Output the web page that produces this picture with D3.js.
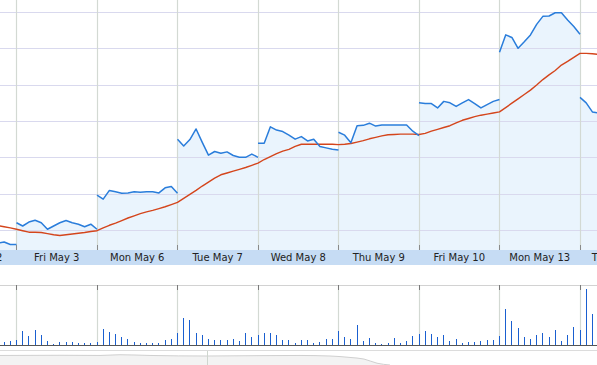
<!DOCTYPE html>
<html>
<head>
<meta charset="utf-8">
<script src="https://cdn.jsdelivr.net/npm/d3@7"></script>
<style>
html,body{margin:0;padding:0;background:#fff;}
svg{display:block;}
</style>
</head>
<body>
<svg id="chart" width="597" height="365"></svg>
<script>
// ---------- data ----------
const dayLabels = ["Thu May 2","Fri May 3","Mon May 6","Tue May 7","Wed May 8","Thu May 9","Fri May 10","Mon May 13","Tue May 14"];
const dayIndex  = [-1, 0, 1, 2, 3, 4, 5, 6, 7];
const firstPoint = [9, 0, 0, 0, 0, 0, 0, 0, 0];   // first half-hour point shown for each session

const pMay2  = [25.63, 25.64, 25.67, 25.60, 25.60];
const pMay3  = [26.20, 26.11, 26.22, 26.27, 26.20, 26.02, 26.11, 26.20, 26.26, 26.20, 26.16, 26.09, 26.16, 26.02];
const pMay6  = [26.96, 26.85, 27.09, 27.05, 27.01, 27.02, 27.05, 27.04, 27.05, 27.05, 27.02, 27.16, 27.20, 27.01];
const pMay7  = [28.50, 28.31, 28.49, 28.78, 28.41, 28.06, 28.16, 28.11, 28.15, 28.05, 28.00, 28.00, 28.09, 28.00];
const pMay8  = [28.39, 28.39, 28.84, 28.75, 28.71, 28.61, 28.50, 28.57, 28.45, 28.50, 28.30, 28.26, 28.22, 28.20];
const pMay9  = [28.69, 28.61, 28.40, 28.87, 28.88, 28.94, 28.86, 28.89, 28.89, 28.89, 28.89, 28.89, 28.72, 28.60];
const pMay10 = [29.50, 29.48, 29.48, 29.36, 29.54, 29.50, 29.40, 29.50, 29.59, 29.48, 29.36, 29.45, 29.54, 29.59];
const pMay13 = [30.89, 31.37, 31.30, 31.00, 31.18, 31.37, 31.66, 31.88, 31.89, 31.98, 31.98, 31.78, 31.60, 31.39];
const pMay14 = [29.65, 29.50, 29.25, 29.22];
const sessionPrices = [pMay2, pMay3, pMay6, pMay7, pMay8, pMay9, pMay10, pMay13, pMay14];

// moving trend line (one value per half-hour slot, starting at slot -4)
const trendStart = -4;
const trend = [
  26.15, 26.12, 26.09, 26.06, 26.02,
  25.98, 25.94, 25.94, 25.93, 25.90, 25.87, 25.85, 25.87, 25.89, 25.91, 25.93, 25.96, 25.98,
  26.06, 26.13, 26.19, 26.26, 26.33, 26.39, 26.45, 26.50, 26.54, 26.59, 26.64, 26.70, 26.76,
  26.87, 26.98, 27.09, 27.21, 27.32, 27.43, 27.52, 27.57, 27.62, 27.67, 27.72, 27.78, 27.84,
  27.94, 28.02, 28.10, 28.17, 28.22, 28.30, 28.36, 28.36, 28.36, 28.36, 28.36, 28.36, 28.35,
  28.36, 28.38, 28.42, 28.46, 28.51, 28.55, 28.59, 28.62, 28.63, 28.64, 28.64, 28.64, 28.63,
  28.66, 28.72, 28.77, 28.82, 28.87, 28.95, 29.02, 29.07, 29.12, 29.16, 29.19, 29.22, 29.25,
  29.37, 29.49, 29.61, 29.73, 29.85, 29.99, 30.14, 30.27, 30.39, 30.54, 30.64, 30.75, 30.86,
  30.86, 30.85, 30.83
];

// volume (thousands) per half-hour slot, starting at slot -4
const volStart = -4;
const volumes = [
  30, 30, 33, 43, 53,
  143, 90, 153, 100, 40, 13, 30, 33, 27, 23, 20, 23, 27,
  163, 133, 107, 83, 63, 30, 17, 23, 17, 17, 53, 63, 123,
  273, 247, 123, 103, 63, 47, 53, 47, 63, 37, 123, 80, 100,
  117, 120, 103, 53, 53, 20, 53, 53, 20, 33, 63, 63, 143,
  83, 63, 203, 43, 73, 23, 13, 17, 73, 23, 43, 90, 110,
  137, 113, 83, 103, 40, 63, 23, 33, 33, 43, 53, 47, 87,
  363, 240, 173, 80, 63, 100, 120, 83, 150, 43, 103, 177, 147,
  563, 313, 200
];

// overview strip (navigator) values
const navX = [0, 60, 100, 120, 150, 207, 260, 300, 330, 350, 364, 377, 390];
const navV = [5.3, 5.4, 5.3, 5.7, 5.3, 5.0, 5.2, 5.3, 5.0, 4.2, 3.3, 1.0, 0];

const priceTicks = [26, 27, 28, 29, 30, 31, 32];

// ---------- layout ----------
const W = 597, H = 365;
const plotTop = 0, plotBottom = 250;
const bandTop = 250, bandBottom = 265;
const volTop = 285, volBottom = 345;
const SLOTS = 13;

const svg = d3.select("#chart");
const x = d3.scaleLinear().domain([0, SLOTS]).range([16.5, 97]);
const y = d3.scaleLinear().domain([26, 32]).range([230, 12]);
const yv = d3.scaleLinear().domain([0, 600]).range([volBottom, volTop]);

svg.append("rect").attr("width", W).attr("height", H).attr("fill", "#fff");

svg.append("defs").append("clipPath").attr("id", "plotclip")
  .append("rect").attr("x", 0).attr("y", plotTop).attr("width", W).attr("height", plotBottom - plotTop);

const plot = svg.append("g").attr("clip-path", "url(#plotclip)");

// sessions
const sessions = sessionPrices.map((arr, i) => ({
  label: dayLabels[i],
  pts: arr.map((v, k) => ({ s: dayIndex[i] * SLOTS + firstPoint[i] + k, v }))
}));

const area = d3.area().x(d => x(d.s)).y0(plotBottom).y1(d => y(d.v));
const line = d3.line().x(d => x(d.s)).y(d => y(d.v));

plot.selectAll("path.fill").data(sessions).join("path")
  .attr("class", "fill").attr("d", d => area(d.pts))
  .attr("fill", "#eaf4fd").attr("stroke", "none");

// horizontal grid
plot.selectAll("line.hg").data(priceTicks).join("line")
  .attr("class", "hg")
  .attr("x1", 0).attr("x2", W)
  .attr("y1", d => Math.round(y(d)) + 0.5).attr("y2", d => Math.round(y(d)) + 0.5)
  .attr("stroke", "#d9d9ee").attr("stroke-width", 1);

// vertical day separators
const bounds = d3.range(0, 8).map(d => d * SLOTS);
plot.selectAll("line.vg").data(bounds).join("line")
  .attr("class", "vg")
  .attr("x1", d => Math.floor(x(d)) + 0.5).attr("x2", d => Math.floor(x(d)) + 0.5)
  .attr("y1", plotTop).attr("y2", plotBottom)
  .attr("stroke", "#d3d9d3").attr("stroke-width", 1.2);

// trend line
const trendPts = trend.map((v, i) => ({ s: trendStart + i, v }));
plot.append("path").attr("d", line(trendPts))
  .attr("fill", "none").attr("stroke", "#d4451c").attr("stroke-width", 1.4)
  .attr("stroke-linejoin", "round");

// price lines
plot.selectAll("path.px").data(sessions).join("path")
  .attr("class", "px").attr("d", d => line(d.pts))
  .attr("fill", "none").attr("stroke", "#2a7ddb").attr("stroke-width", 1.5)
  .attr("stroke-linejoin", "round");

// ticks at bottom of plot
svg.selectAll("line.tk").data(bounds).join("line")
  .attr("class", "tk")
  .attr("x1", d => Math.floor(x(d)) + 0.5).attr("x2", d => Math.floor(x(d)) + 0.5)
  .attr("y1", plotBottom - 5).attr("y2", plotBottom)
  .attr("stroke", "#8a8a8a").attr("stroke-width", 1);

// date band
svg.append("rect").attr("x", 0).attr("y", bandTop).attr("width", W).attr("height", bandBottom - bandTop)
  .attr("fill", "#c6dcf4");
svg.selectAll("text.day").data(sessions).join("text")
  .attr("class", "day")
  .attr("x", (d, i) => x(dayIndex[i] * SLOTS + SLOTS / 2))
  .attr("y", 261)
  .attr("text-anchor", "middle")
  .attr("font-family", "DejaVu Sans, Verdana, sans-serif")
  .attr("font-size", 10)
  .attr("fill", "#222")
  .text(d => d.label);

// volume panel
svg.append("line").attr("x1", 0).attr("x2", W).attr("y1", volTop + 0.5).attr("y2", volTop + 0.5)
  .attr("stroke", "#d2d2d2");
svg.selectAll("line.vvg").data(bounds).join("line")
  .attr("class", "vvg")
  .attr("x1", d => Math.floor(x(d)) + 0.5).attr("x2", d => Math.floor(x(d)) + 0.5)
  .attr("y1", volTop).attr("y2", volBottom)
  .attr("stroke", "#d3d9d3").attr("stroke-width", 1.2);
svg.selectAll("line.vtk").data(bounds).join("line")
  .attr("class", "vtk")
  .attr("x1", d => Math.floor(x(d)) + 0.5).attr("x2", d => Math.floor(x(d)) + 0.5)
  .attr("y1", volTop).attr("y2", volTop + 5)
  .attr("stroke", "#7a7a7a").attr("stroke-width", 1);

svg.selectAll("rect.vol").data(volumes.map((v, i) => ({ s: volStart + i, v }))).join("rect")
  .attr("class", "vol")
  .attr("x", d => Math.floor(x(d.s))).attr("width", 1)
  .attr("y", d => yv(d.v)).attr("height", d => volBottom - yv(d.v))
  .attr("fill", "#1a5fd0")
  .attr("shape-rendering", "crispEdges");

svg.append("line").attr("x1", 0).attr("x2", W).attr("y1", volBottom + 0.5).attr("y2", volBottom + 0.5)
  .attr("stroke", "#555").attr("stroke-width", 1.2);

// navigator strip
svg.append("line").attr("x1", 0).attr("x2", W).attr("y1", 350.5).attr("y2", 350.5)
  .attr("stroke", "#dcdcdc");
const ny = d3.scaleLinear().domain([0, 10]).range([365, 347]);
const navPts = navX.map((v, i) => ({ a: v, b: navV[i] }));
svg.append("path")
  .attr("d", d3.area().x(d => d.a).y0(365).y1(d => ny(d.b)).curve(d3.curveMonotoneX)(navPts))
  .attr("fill", "#f3f3f3");
svg.append("path")
  .attr("d", d3.line().x(d => d.a).y(d => ny(d.b)).curve(d3.curveMonotoneX)(navPts))
  .attr("fill", "none").attr("stroke", "#d0d0d0").attr("stroke-width", 1);
svg.append("line").attr("x1", 207.5).attr("x2", 207.5).attr("y1", 351).attr("y2", 365)
  .attr("stroke", "#cfd6cf");
</script>
</body>
</html>
